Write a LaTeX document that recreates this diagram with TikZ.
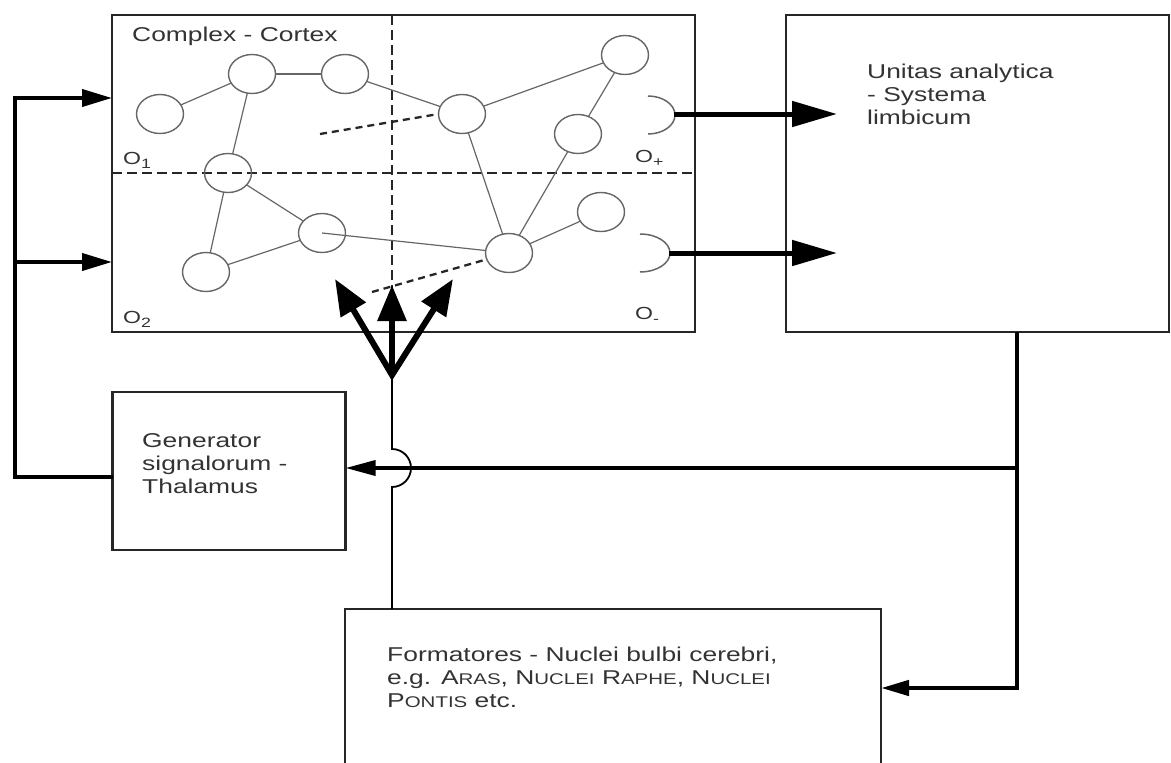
\documentclass[tikz,border=0pt]{standalone}
\usepackage{fontspec}
\setmainfont{Liberation Sans}[FakeStretch=1.32]
\usetikzlibrary{arrows.meta,shapes.geometric}
\newcommand{\fsc}[2]{#1{\fontsize{15.5}{23}\selectfont #2}}
\newcommand{\osub}[1]{\raisebox{-4pt}{\fontsize{13.5}{14}\selectfont #1}}
\begin{document}
\begin{tikzpicture}[x=1pt,y=-1pt,
  box/.style={draw=black!85, line width=2.6pt, outer sep=0pt, inner sep=0pt},
  cell/.style={ellipse, draw=black!60, line width=1.4pt, minimum width=47pt, minimum height=39pt, inner sep=0pt, outer sep=0pt},
  link/.style={draw=black!60, line width=1.2pt},
  grid/.style={draw=black!85, line width=2.4pt, dash pattern=on 10pt off 5pt},
  hint/.style={draw=black!85, line width=2.3pt, dash pattern=on 7pt off 5pt},
  lbl/.style={font=\fontsize{20}{23}\selectfont, text=black!80, align=left, anchor=north west, inner sep=0pt},
  olbl/.style={font=\fontsize{17.5}{20}\selectfont, text=black!80, anchor=north west, inner sep=0pt},
  outarrow/.style={draw=black, line width=5pt, -{Triangle[length=45pt,width=25pt]}},
  feed/.style={draw=black, line width=4pt, -{Triangle[length=30pt,width=17pt]}},
  fanarrow/.style={draw=black, line width=6pt, line join=miter},
  thin/.style={draw=black, line width=1.8pt},
  cup/.style={draw=black!60, line width=1.5pt}
]
\useasboundingbox (0,0) rectangle (1171,763);
\clip (0,0) rectangle (1171,763);

% boxes
\node[box, minimum width=583pt, minimum height=317pt] (cortex) at (403.5,173.5) {};
\node[box, minimum width=383pt, minimum height=317pt] (rbox) at (977.5,173.5) {};
\node[box, minimum width=233pt, minimum height=158pt] (gen) at (229,471) {};
\node[box, minimum width=536pt, minimum height=180pt] (form) at (613,699) {};

% grid lines in cortex
\coordinate (vx) at (392,0);
\coordinate (hy) at (0,173);
\draw[grid] (cortex.north -| vx) -- (cortex.south -| vx);
\draw[grid] (cortex.west |- hy) -- (cortex.east |- hy);

% cells
\node[cell] (n1) at (160,114) {};
\node[cell] (n2) at (252,74) {};
\node[cell] (n3) at (345,74) {};
\node[cell] (n4) at (228,173) {};
\node[cell] (n5) at (322,233) {};
\node[cell] (n6) at (206,272) {};
\node[cell] (n7) at (462,114) {};
\node[cell] (n8) at (625,55) {};
\node[cell] (n9) at (578,134) {};
\node[cell] (n10) at (601,212) {};
\node[cell] (n11) at (509,253) {};

\draw[link] (n1) -- (n2);
\draw[link] (n2) -- (n3);
\draw[link] (n3) -- (n7);
\draw[link] (n2) -- (n4);
\draw[link] (n4) -- (n5);
\draw[link] (n4) -- (n6);
\draw[link] (n6) -- (n5);
\draw[link] (n5.center) -- (n11);
\draw[link] (n7) -- (n11);
\draw[link] (n8) -- (n7);
\draw[link] (n8) -- (n9);
\draw[link] (n9) -- (n11);
\draw[link] (n10) -- (n11);

% dashed hints
\coordinate (d1) at (320,134);
\coordinate (d2) at (372,292);
\draw[hint] (d1) -- (n7.west);
\draw[hint] (d2) -- (n11);

% labels
\node[lbl] (ctitle) at (132,27) {Complex - Cortex};
\node[olbl] (o1) at (123,152) {O\osub{1}};
\node[olbl] (o2) at (123,311) {O\osub{2}};
\node[olbl] (op) at (635,150) {O\osub{+}};
\node[olbl] (om) at (635,307) {O\osub{-}};
\node[lbl] (utext) at (867,64) {Unitas analytica\\- Systema\\limbicum};
\node[lbl] (gtext) at (142,433) {Generator\\signalorum -\\Thalamus};
\node[lbl] (ftext) at (387,647) {Formatores - Nuclei bulbi cerebri,\\e.g. \fsc{A}{RAS}, \fsc{N}{UCLEI} \fsc{R}{APHE}, \fsc{N}{UCLEI}\\\fsc{P}{ONTIS} etc.};

% output cups and arrows
\draw[cup] (648,96) arc[start angle=-90, end angle=90, x radius=27, y radius=19];
\draw[cup] (640,234) arc[start angle=-90, end angle=90, x radius=30, y radius=19];
\coordinate (c1) at (674,114);
\coordinate (c2) at (669,253);
\coordinate (a1) at (837,114);
\coordinate (a2) at (837,253);
\draw[outarrow] (c1) -- (a1);
\draw[outarrow] (c2) -- (a2);

% feedback from generator to cortex
\coordinate (lt) at (15,98);
\coordinate (lm) at (15,262);
\coordinate (lb) at (15,477);
\draw[feed] (gen.west |- lb) -- (lb) -- (lt) -- (cortex.west |- lt);
\draw[feed] (lm) -- (cortex.west |- lm);

% right side feedback
\coordinate (rj) at (1017,468);
\coordinate (rb) at (1017,688);
\draw[draw=black, line width=4.5pt, -{Triangle[length=28pt,width=15pt]}] (rbox.south -| rj) -- (rb) -- (form.east |- rb);
\draw[draw=black, line width=3.5pt, -{Triangle[length=30pt,width=15pt]}] (rj) -- (gen.east |- rj);

% fan and bridge line
\coordinate (apex) at (392,375);
\coordinate (ft1) at (335,279);
\coordinate (ft2) at (392,285);
\coordinate (ft3) at (453,279);
\draw[fanarrow, {Triangle[length=36pt,width=28pt]}-{Triangle[length=36pt,width=28pt]}] (ft1) -- (apex) -- (ft3);
\draw[fanarrow, -{Triangle[length=36pt,width=28pt]}] (apex) -- (ft2);
\draw[thin] (apex) -- (392,449) arc[start angle=-90, end angle=90, radius=19] -- (form.north -| apex);
\end{tikzpicture}
\end{document}
